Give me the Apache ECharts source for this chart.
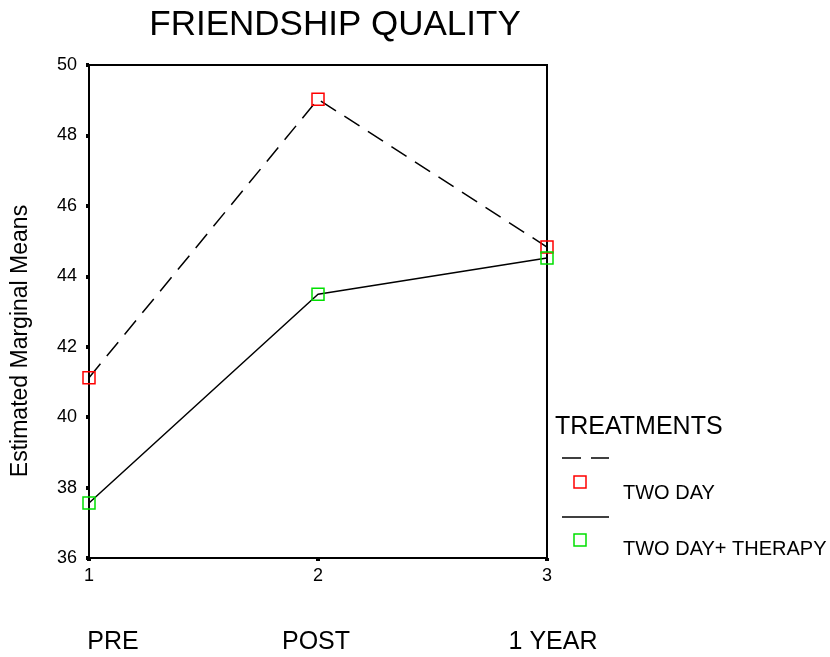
<!DOCTYPE html>
<html>
<head>
<meta charset="utf-8">
<script src="https://cdn.jsdelivr.net/npm/echarts@6/dist/echarts.min.js"></script>
<style>
  html, body { margin: 0; padding: 0; background: #fff; }
  #chart { width: 830px; height: 657px; }
</style>
</head>
<body>
<div id="chart"></div>
<script>
const timePoints = [1, 2, 3]
const timeNames = ['PRE', 'POST', '1 YEAR']
const twoDay = [41.12, 49.03, 44.83]
const twoDayTherapy = [37.56, 43.49, 44.52]

const font = 'Liberation Sans, Arial, sans-serif'
const chart = echarts.init(document.getElementById('chart'))

function toPairs(vals) {
  return timePoints.map((t, i) => [t, vals[i]])
}

const markerStyle = color => ({
  color: 'rgba(0,0,0,0)',
  borderColor: color,
  borderWidth: 1.5
})

// where the time names sit under the axis
const nameX = [113, 316, 553]

chart.setOption({
  animation: false,
  backgroundColor: '#fff',
  title: {
    text: 'FRIENDSHIP QUALITY',
    left: 330,
    top: 3,
    textAlign: 'center',
    textStyle: { fontFamily: font, fontSize: 35, fontWeight: 'normal', color: '#000' }
  },
  grid: {
    left: 89, right: 283, top: 65, bottom: 99,
    show: true,
    borderColor: '#000',
    borderWidth: 2
  },
  xAxis: {
    type: 'value',
    min: 1, max: 3, interval: 1,
    axisLine: { lineStyle: { color: '#000', width: 2 } },
    axisTick: { show: true, length: 3, lineStyle: { color: '#000', width: 4 } },
    splitLine: { show: false },
    axisLabel: { color: '#000', fontFamily: font, fontSize: 18, margin: 9 }
  },
  yAxis: {
    type: 'value',
    min: 36, max: 50, interval: 2,
    axisLine: { lineStyle: { color: '#000', width: 2 } },
    axisTick: { show: true, length: 3, lineStyle: { color: '#000', width: 4 } },
    splitLine: { show: false },
    axisLabel: { color: '#000', fontFamily: font, fontSize: 18, margin: 12, padding: [5, 0, 0, 0] }
  },
  series: [
    {
      name: 'TWO DAY',
      type: 'line',
      data: toPairs(twoDay),
      symbol: 'rect',
      symbolSize: 12,
      lineStyle: { color: '#000', width: 1.5, type: [18, 10] },
      itemStyle: markerStyle('#ff0000'),
      z: 3
    },
    {
      name: 'TWO DAY+ THERAPY',
      type: 'line',
      data: toPairs(twoDayTherapy),
      symbol: 'rect',
      symbolSize: 12,
      lineStyle: { color: '#000', width: 1.5 },
      itemStyle: markerStyle('#00e000'),
      z: 3
    }
  ],
  graphic: [
    {
      type: 'text', x: 21, y: 341, rotation: Math.PI / 2,
      style: { text: 'Estimated Marginal Means', align: 'center', verticalAlign: 'middle', fill: '#000', font: '23px ' + font }
    },
    ...timeNames.map((name, i) => ({
      type: 'text', x: nameX[i], y: 642,
      style: { text: name, align: 'center', verticalAlign: 'middle', fill: '#000', font: '25px ' + font }
    })),
    // legend
    { type: 'text', x: 555, y: 427, style: { text: 'TREATMENTS', verticalAlign: 'middle', fill: '#000', font: '25px ' + font } },
    { type: 'line', shape: { x1: 562, y1: 458, x2: 609, y2: 458 },
      style: { stroke: '#000', lineWidth: 1.5, lineDash: [19, 10] } },
    { type: 'rect', shape: { x: 574, y: 476, width: 12, height: 12 },
      style: { fill: 'none', stroke: '#ff0000', lineWidth: 1.5 } },
    { type: 'text', x: 623, y: 493, style: { text: 'TWO DAY', verticalAlign: 'middle', fill: '#000', font: '20px ' + font } },
    { type: 'line', shape: { x1: 562, y1: 517, x2: 609, y2: 517 },
      style: { stroke: '#000', lineWidth: 1.5 } },
    { type: 'rect', shape: { x: 574, y: 534, width: 12, height: 12 },
      style: { fill: 'none', stroke: '#00e000', lineWidth: 1.5 } },
    { type: 'text', x: 623, y: 549, style: { text: 'TWO DAY+ THERAPY', verticalAlign: 'middle', fill: '#000', font: '20px ' + font } }
  ]
})
</script>
</body>
</html>
